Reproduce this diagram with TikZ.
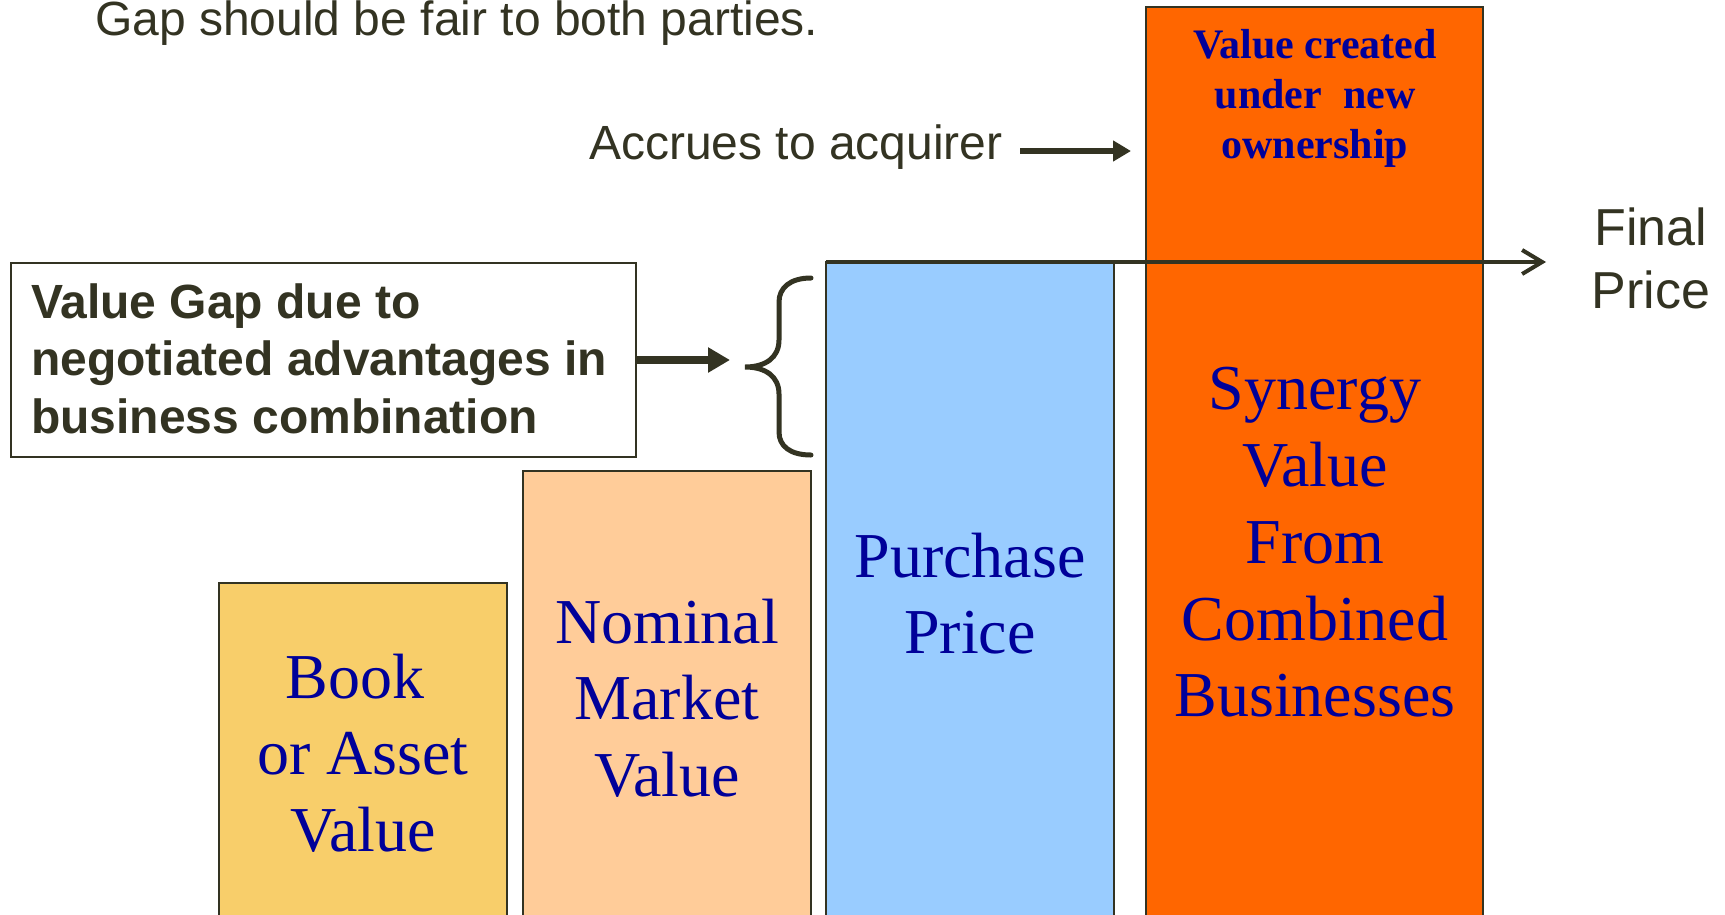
\documentclass[tikz,border=0pt]{standalone}
\usepackage{fontspec}
\setmainfont{Liberation Serif}
\newfontfamily\arialf{Liberation Sans}
\usetikzlibrary{arrows.meta}
\definecolor{ink}{HTML}{333322}
\definecolor{bluetxt}{HTML}{000099}
\definecolor{bookc}{HTML}{F8CE6A}
\definecolor{nomc}{HTML}{FFCC99}
\definecolor{purc}{HTML}{99CCFF}
\definecolor{orc}{HTML}{FF6600}
\begin{document}
\begin{tikzpicture}[x=1pt,y=-1pt,
  bar/.style={draw=ink,line width=1.6pt,rectangle,anchor=north west,inner sep=0pt,outer sep=0pt},
  bartext/.style={text=bluetxt,font=\fontsize{64}{76.7}\selectfont,align=center,anchor=north,inner sep=0pt},
  inktext/.style={text=ink,inner sep=0pt},
  thickarrow/.style={draw=ink,line width=#1},
]
\useasboundingbox (0,0) rectangle (1725,914);
\clip (0,0) rectangle (1725,914);
\fill[white] (0,0) rectangle (1725,914);

% bars
\node[bar,fill=bookc,minimum width=288pt,minimum height=360pt] (book) at (219,583) {};
\node[bar,fill=nomc,minimum width=288pt,minimum height=470pt] (nominal) at (523,471) {};
\node[bar,fill=purc,minimum width=288pt,minimum height=680pt] (purchase) at (826,262) {};
\node[bar,fill=orc,minimum width=337pt,minimum height=930pt] (synergy) at (1146,7) {};

% gap box
\node[bar,fill=white,line width=1.8pt,minimum width=625pt,minimum height=194pt] (gapbox) at (11,263) {};

% texts in bars
\node[bartext] (booktxt) at (363,644.3) {\strut Book\hspace*{0.25em}\\or Asset\\Value};
\node[bartext] (nomtxt) at (667,589.3) {\strut Nominal\\Market\\Value};
\node[bartext] (purtxt) at (970,523.3) {\strut Purchase\\Price};
\node[bartext] (syntxt) at (1315,356) {\strut Synergy\\Value\\From\hspace*{0.25em}\\Combined\\Businesses};
\node[bartext,font=\fontsize{42}{50}\selectfont\bfseries] (newtxt) at (1315,23) {\strut Value created\\under~ new\\ownership};

% other texts
\node[inktext,anchor=base west,font=\arialf\fontsize{48}{58}\selectfont] (toptxt) at (95,35) {Gap should be fair to both parties.};
\node[inktext,anchor=base west,font=\arialf\fontsize{48}{58}\selectfont] (acctxt) at (589,159) {Accrues to acquirer};
\node[inktext,anchor=north,align=center,font=\arialf\fontsize{52}{63}\selectfont] (finaltxt) at (1651,200.9) {\strut Final\\Price};
\node[inktext,anchor=north west,align=left,font=\arialf\bfseries\fontsize{48}{57.5}\selectfont] (gaptxt) at (31,277.75) {\strut Value Gap due to\\negotiated advantages in\\business combination};

% connectors
\coordinate (accS) at (1020,151);
\coordinate (accE) at (1131,151);
\draw[thickarrow=6pt,-{Triangle[length=18pt,width=20pt]}] (accS) -- (accE);

\coordinate (finE) at (1546,262);
\draw[thickarrow=4pt,-{Straight Barb[length=20pt,width=24pt]}] (purchase.north west) -- (finE);

\coordinate (gapE) at (730,359);
\draw[thickarrow=8pt,-{Triangle[length=22pt,width=24pt]}] (gapbox.east) -- (gapbox.east -| gapE);

% brace
\draw[ink,line width=5pt,line cap=round]
  (811,278) .. controls (790,278) and (779,288) .. (779,302) -- (779,340)
  .. controls (779,358) and (765,367) .. (745,367)
  .. controls (765,367) and (779,376) .. (779,394) -- (779,432)
  .. controls (779,446) and (790,455) .. (811,455);
\end{tikzpicture}
\end{document}
